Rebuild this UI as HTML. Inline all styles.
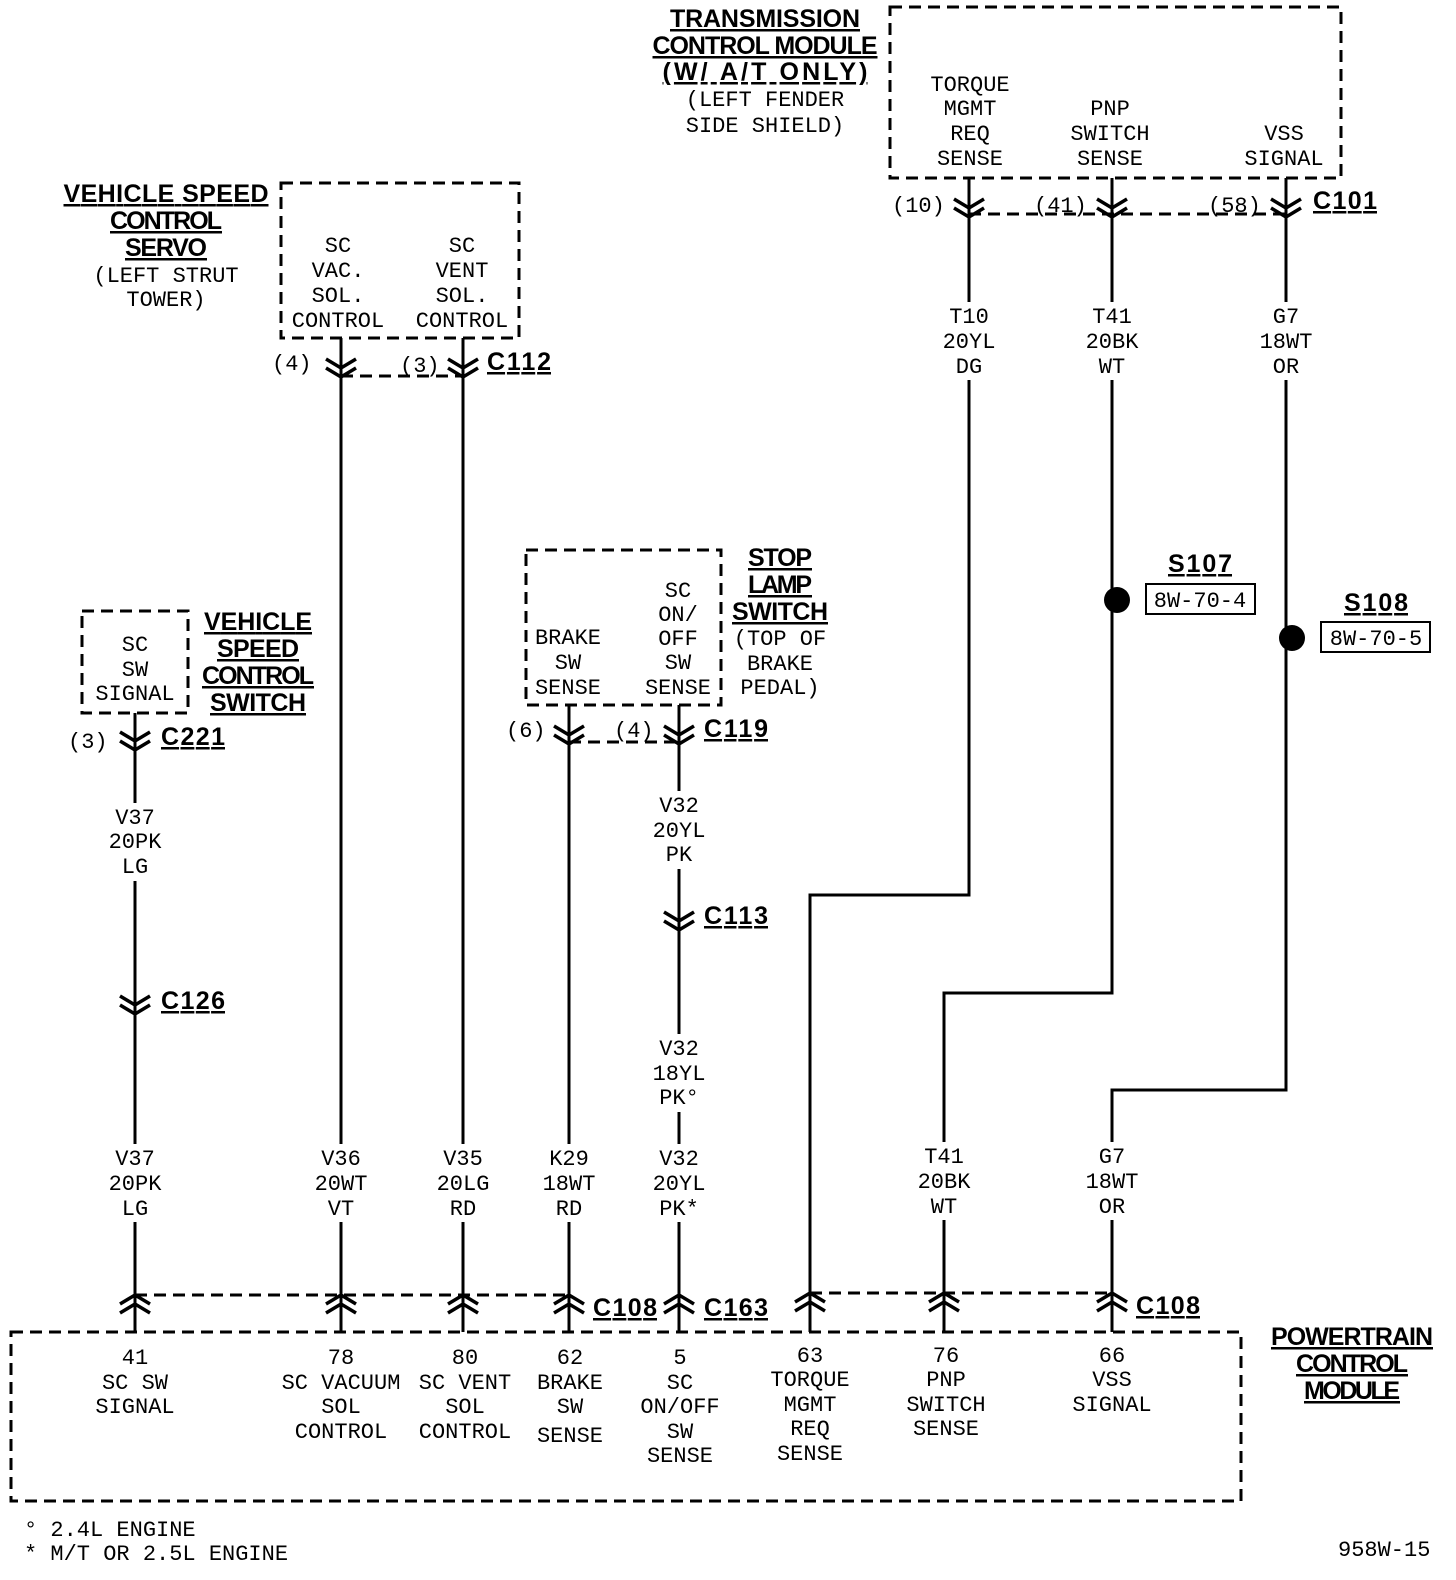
<!DOCTYPE html>
<html><head><meta charset="utf-8"><style>
html,body{margin:0;padding:0;background:#fff}
svg{display:block}
text{font-family:"Liberation Mono",monospace;font-size:22px;fill:#000}
.b{font-family:"Liberation Sans",sans-serif;font-weight:bold;font-size:25px;text-decoration:underline}
.m{text-anchor:middle}
</style></head><body>
<svg width="1456" height="1580" viewBox="0 0 1456 1580" xmlns="http://www.w3.org/2000/svg">
<defs>
<g id="dn"><polyline points="-15,-9 0,0 15,-9" fill="none" stroke="#000" stroke-width="3.5"/><polyline points="-15,0 0,9 15,0" fill="none" stroke="#000" stroke-width="3.5"/></g>
<g id="up"><polyline points="-15,9 0,0 15,9" fill="none" stroke="#000" stroke-width="3.5"/><polyline points="-15,0 0,-9 15,0" fill="none" stroke="#000" stroke-width="3.5"/></g>
</defs>
<g fill="none" stroke="#000" stroke-width="3" stroke-dasharray="12,7">
<rect x="890" y="7" width="451" height="171"/>
<rect x="281" y="183" width="238" height="155"/>
<rect x="82" y="611" width="106" height="102"/>
<rect x="526" y="550" width="195" height="155"/>
<rect x="11" y="1332" width="1230" height="169"/>
<line x1="969" y1="214" x2="1286" y2="214"/>
<line x1="341" y1="376" x2="463" y2="376"/>
<line x1="569" y1="742" x2="679" y2="742"/>
<line x1="135" y1="1295" x2="569" y2="1295"/>
<line x1="810" y1="1293" x2="1112" y2="1293"/>
</g>
<g fill="none" stroke="#000" stroke-width="3">
<line x1="135" y1="713" x2="135" y2="1332"/>
<line x1="341" y1="338" x2="341" y2="1332"/>
<line x1="463" y1="338" x2="463" y2="1332"/>
<line x1="569" y1="705" x2="569" y2="1332"/>
<line x1="679" y1="705" x2="679" y2="1332"/>
<polyline points="969,178 969,895 810,895 810,1332"/>
<polyline points="1112,178 1112,993 944,993 944,1332"/>
<polyline points="1286,178 1286,1090 1112,1090 1112,1332"/>
</g>
<g fill="#fff">
<rect x="930" y="302" width="80" height="78"/>
<rect x="1072" y="302" width="80" height="78"/>
<rect x="1246" y="302" width="80" height="78"/>
<rect x="95" y="803" width="80" height="78"/>
<rect x="639" y="791" width="80" height="78"/>
<rect x="639" y="1034" width="80" height="78"/>
<rect x="95" y="1144" width="80" height="78"/>
<rect x="301" y="1144" width="80" height="78"/>
<rect x="423" y="1144" width="80" height="78"/>
<rect x="529" y="1144" width="80" height="78"/>
<rect x="639" y="1144" width="80" height="78"/>
<rect x="904" y="1142" width="80" height="78"/>
<rect x="1072" y="1142" width="80" height="78"/>
</g>
<circle cx="1117" cy="600" r="13"/>
<circle cx="1292" cy="638" r="13"/>
<rect x="1146" y="584" width="109" height="30" fill="none" stroke="#000" stroke-width="2"/>
<rect x="1321" y="622" width="109" height="30" fill="none" stroke="#000" stroke-width="2"/>
<use href="#dn" x="969" y="208"/><use href="#dn" x="1112" y="208"/><use href="#dn" x="1286" y="208"/>
<use href="#dn" x="341" y="368"/><use href="#dn" x="463" y="368"/>
<use href="#dn" x="135" y="741"/><use href="#dn" x="135" y="1005"/>
<use href="#dn" x="569" y="735"/><use href="#dn" x="679" y="735"/><use href="#dn" x="679" y="921"/>
<g>
<use href="#up" x="135" y="1304"/><use href="#up" x="341" y="1304"/><use href="#up" x="463" y="1304"/><use href="#up" x="569" y="1304"/><use href="#up" x="679" y="1304"/><use href="#up" x="810" y="1302"/><use href="#up" x="944" y="1302"/><use href="#up" x="1112" y="1302"/>
</g>
<text class="b m" x="765" y="27" textLength="190">TRANSMISSION</text>
<text class="b m" x="765" y="54" textLength="225">CONTROL MODULE</text>
<text class="b m" x="765" y="80" textLength="205">(W/ A/T ONLY)</text>
<text class="m" x="765" y="106">(LEFT FENDER</text>
<text class="m" x="765" y="132">SIDE SHIELD)</text>
<text class="b m" x="166" y="202" textLength="205">VEHICLE SPEED</text>
<text class="b m" x="166" y="229" textLength="112">CONTROL</text>
<text class="b m" x="166" y="256" textLength="82">SERVO</text>
<text class="m" x="166" y="282">(LEFT STRUT</text>
<text class="m" x="166" y="306">TOWER)</text>
<text class="b m" x="258" y="630" textLength="108">VEHICLE</text>
<text class="b m" x="258" y="657" textLength="82">SPEED</text>
<text class="b m" x="258" y="684" textLength="112">CONTROL</text>
<text class="b m" x="258" y="711" textLength="96">SWITCH</text>
<text class="b m" x="780" y="566" textLength="64">STOP</text>
<text class="b m" x="780" y="593" textLength="64">LAMP</text>
<text class="b m" x="780" y="620" textLength="96">SWITCH</text>
<text class="m" x="780" y="645">(TOP OF</text>
<text class="m" x="780" y="670">BRAKE</text>
<text class="m" x="780" y="694">PEDAL)</text>
<text class="b m" x="1352" y="1345" textLength="162">POWERTRAIN</text>
<text class="b m" x="1352" y="1372" textLength="112">CONTROL</text>
<text class="b m" x="1352" y="1399" textLength="96">MODULE</text>
<text class="b" x="1313" y="209" textLength="64">C101</text>
<text class="b" x="487" y="370" textLength="64">C112</text>
<text class="b" x="161" y="745" textLength="64">C221</text>
<text class="b" x="161" y="1009" textLength="64">C126</text>
<text class="b" x="704" y="737" textLength="64">C119</text>
<text class="b" x="704" y="924" textLength="64">C113</text>
<text class="b" x="593" y="1316" textLength="64">C108</text>
<text class="b" x="704" y="1316" textLength="64">C163</text>
<text class="b" x="1136" y="1314" textLength="64">C108</text>
<text class="b m" x="1200" y="572" textLength="64">S107</text>
<text class="b m" x="1376" y="611" textLength="64">S108</text>
<text class="m" x="1200" y="607">8W-70-4</text>
<text class="m" x="1376" y="645">8W-70-5</text>
<text class="m" x="970" y="91">TORQUE</text><text class="m" x="970" y="115">MGMT</text><text class="m" x="970" y="140">REQ</text><text class="m" x="970" y="165">SENSE</text>
<text class="m" x="1110" y="115">PNP</text><text class="m" x="1110" y="140">SWITCH</text><text class="m" x="1110" y="165">SENSE</text>
<text class="m" x="1284" y="140">VSS</text><text class="m" x="1284" y="165">SIGNAL</text>
<text class="m" x="338" y="252">SC</text><text class="m" x="338" y="277">VAC.</text><text class="m" x="338" y="302">SOL.</text><text class="m" x="338" y="327">CONTROL</text>
<text class="m" x="462" y="252">SC</text><text class="m" x="462" y="277">VENT</text><text class="m" x="462" y="302">SOL.</text><text class="m" x="462" y="327">CONTROL</text>
<text class="m" x="135" y="651">SC</text><text class="m" x="135" y="676">SW</text><text class="m" x="135" y="700">SIGNAL</text>
<text class="m" x="568" y="644">BRAKE</text><text class="m" x="568" y="669">SW</text><text class="m" x="568" y="694">SENSE</text>
<text class="m" x="678" y="597">SC</text><text class="m" x="678" y="621">ON/</text><text class="m" x="678" y="645">OFF</text><text class="m" x="678" y="669">SW</text><text class="m" x="678" y="694">SENSE</text>
<text x="892" y="212">(10)</text><text x="1034" y="212">(41)</text><text x="1208" y="212">(58)</text>
<text x="272" y="370">(4)</text><text x="400" y="372">(3)</text>
<text x="68" y="748">(3)</text>
<text x="506" y="737">(6)</text><text x="614" y="737">(4)</text>
<text class="m" x="969" y="323">T10</text><text class="m" x="969" y="348">20YL</text><text class="m" x="969" y="373">DG</text>
<text class="m" x="1112" y="323">T41</text><text class="m" x="1112" y="348">20BK</text><text class="m" x="1112" y="373">WT</text>
<text class="m" x="1286" y="323">G7</text><text class="m" x="1286" y="348">18WT</text><text class="m" x="1286" y="373">OR</text>
<text class="m" x="135" y="824">V37</text><text class="m" x="135" y="848">20PK</text><text class="m" x="135" y="873">LG</text>
<text class="m" x="679" y="812">V32</text><text class="m" x="679" y="837">20YL</text><text class="m" x="679" y="861">PK</text>
<text class="m" x="679" y="1055">V32</text><text class="m" x="679" y="1080">18YL</text><text class="m" x="679" y="1104">PK°</text>
<text class="m" x="135" y="1165">V37</text><text class="m" x="135" y="1190">20PK</text><text class="m" x="135" y="1215">LG</text>
<text class="m" x="341" y="1165">V36</text><text class="m" x="341" y="1190">20WT</text><text class="m" x="341" y="1215">VT</text>
<text class="m" x="463" y="1165">V35</text><text class="m" x="463" y="1190">20LG</text><text class="m" x="463" y="1215">RD</text>
<text class="m" x="569" y="1165">K29</text><text class="m" x="569" y="1190">18WT</text><text class="m" x="569" y="1215">RD</text>
<text class="m" x="679" y="1165">V32</text><text class="m" x="679" y="1190">20YL</text><text class="m" x="679" y="1215">PK*</text>
<text class="m" x="944" y="1163">T41</text><text class="m" x="944" y="1188">20BK</text><text class="m" x="944" y="1213">WT</text>
<text class="m" x="1112" y="1163">G7</text><text class="m" x="1112" y="1188">18WT</text><text class="m" x="1112" y="1213">OR</text>
<text class="m" x="135" y="1364">41</text><text class="m" x="135" y="1389">SC SW</text><text class="m" x="135" y="1413">SIGNAL</text>
<text class="m" x="341" y="1364">78</text><text class="m" x="341" y="1389">SC VACUUM</text><text class="m" x="341" y="1413">SOL</text><text class="m" x="341" y="1438">CONTROL</text>
<text class="m" x="465" y="1364">80</text><text class="m" x="465" y="1389">SC VENT</text><text class="m" x="465" y="1413">SOL</text><text class="m" x="465" y="1438">CONTROL</text>
<text class="m" x="570" y="1364">62</text><text class="m" x="570" y="1389">BRAKE</text><text class="m" x="570" y="1413">SW</text><text class="m" x="570" y="1442">SENSE</text>
<text class="m" x="680" y="1364">5</text><text class="m" x="680" y="1389">SC</text><text class="m" x="680" y="1413">ON/OFF</text><text class="m" x="680" y="1438">SW</text><text class="m" x="680" y="1462">SENSE</text>
<text class="m" x="810" y="1362">63</text><text class="m" x="810" y="1386">TORQUE</text><text class="m" x="810" y="1411">MGMT</text><text class="m" x="810" y="1435">REQ</text><text class="m" x="810" y="1460">SENSE</text>
<text class="m" x="946" y="1362">76</text><text class="m" x="946" y="1386">PNP</text><text class="m" x="946" y="1411">SWITCH</text><text class="m" x="946" y="1435">SENSE</text>
<text class="m" x="1112" y="1362">66</text><text class="m" x="1112" y="1386">VSS</text><text class="m" x="1112" y="1411">SIGNAL</text>
<text x="24" y="1536">° 2.4L ENGINE</text>
<text x="24" y="1560">* M/T OR 2.5L ENGINE</text>
<text x="1338" y="1556">958W-15</text>
</svg>
</body></html>
